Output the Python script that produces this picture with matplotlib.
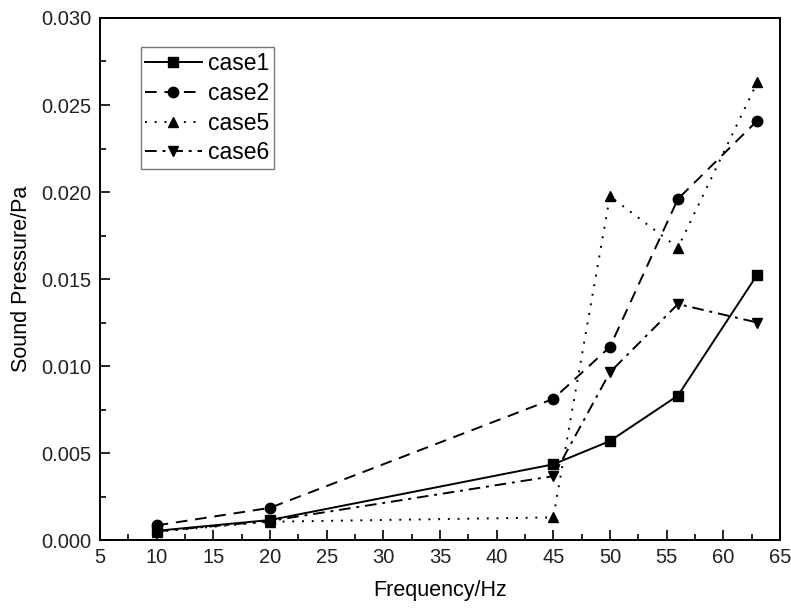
import matplotlib
matplotlib.use("Agg")
import matplotlib.pyplot as plt
from matplotlib.ticker import MultipleLocator

plt.rcParams['font.family'] = ['Liberation Sans', 'DejaVu Sans']

freq = [10, 20, 45, 50, 56, 63]
case1 = [0.00053, 0.00115, 0.00435, 0.00569, 0.0083, 0.01525]
case2 = [0.00084, 0.00185, 0.00811, 0.01110, 0.0196, 0.0241]
case5 = [0.00048, 0.00105, 0.00130, 0.01976, 0.0168, 0.0263]
case6 = [0.00050, 0.00110, 0.00367, 0.00964, 0.01356, 0.0125]

fig = plt.figure(figsize=(7.91, 6.08), dpi=100)
ax = fig.add_axes([0.1264, 0.1118, 0.8596, 0.8586])

kw = dict(color='black', linewidth=1.4, markersize=7.5)
ax.plot(freq, case1, linestyle='-', marker='s', label='case1', **kw)
ax.plot(freq, case2, linestyle=(0, (6, 4)), marker='o', label='case2', **kw)
ax.plot(freq, case5, linestyle=(0, (1, 4)), marker='^', label='case5', **kw)
ax.plot(freq, case6, linestyle=(0, (6, 3, 1.5, 3)), marker='v', label='case6', **kw)

ax.set_xlim(5, 65)
ax.set_ylim(0, 0.030)
ax.xaxis.set_major_locator(MultipleLocator(5))
ax.xaxis.set_minor_locator(MultipleLocator(2.5))
ax.yaxis.set_major_locator(MultipleLocator(0.005))
ax.yaxis.set_minor_locator(MultipleLocator(0.0025))
ax.yaxis.set_major_formatter(plt.FormatStrFormatter('%.3f'))
ax.tick_params(which='both', direction='in', top=False, right=False,
               labelsize=14.5, width=1.2, pad=6, labelcolor='#222222')
ax.tick_params(which='major', length=7)
ax.tick_params(which='minor', length=4)
for s in ax.spines.values():
    s.set_linewidth(1.4)

ax.set_xlabel('Frequency/Hz', fontsize=15.5, labelpad=9)
ax.set_ylabel('Sound Pressure/Pa', fontsize=15.5, labelpad=7)

leg = ax.legend(loc='upper left', bbox_to_anchor=(0.060, 0.944), fontsize=16.5,
                frameon=True, fancybox=False, edgecolor='#555555',
                handlelength=2.45, handletextpad=0.3, borderpad=0.2,
                labelspacing=0.3, borderaxespad=0)
leg.get_frame().set_linewidth(1.0)

fig.savefig('out.png', dpi=100)
